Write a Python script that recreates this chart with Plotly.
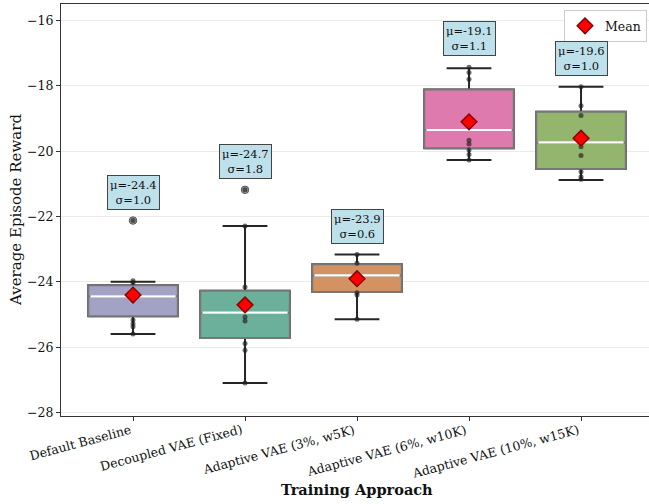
import plotly.graph_objects as go

# Training approaches compared
categories = [
    "Default Baseline",
    "Decoupled VAE (Fixed)",
    "Adaptive VAE (3%, w5K)",
    "Adaptive VAE (6%, w10K)",
    "Adaptive VAE (10%, w15K)",
]

# Box statistics of the average episode reward per approach
q1 = [-25.05, -25.71, -24.31, -19.91, -20.54]
medians = [-24.44, -24.94, -23.80, -19.35, -19.73]
q3 = [-24.10, -24.27, -23.46, -18.11, -18.79]
lower_whisker = [-25.59, -27.09, -25.14, -20.27, -20.88]
upper_whisker = [-23.99, -22.29, -23.16, -17.46, -18.03]

# Summary statistics shown in the labels
means = [-24.4, -24.7, -23.9, -19.1, -19.6]
stds = [1.0, 1.8, 0.6, 1.1, 1.0]

# Individual runs (visible points) and flagged outliers
runs = [
    [-22.12, -23.96, -24.02, -25.16, -25.28, -25.37, -25.59],
    [-21.18, -22.29, -24.15, -25.07, -25.19, -25.88, -26.09, -27.09],
    [-23.16, -23.43, -24.33, -24.40, -25.14],
    [-17.43, -17.59, -17.80, -19.66, -19.78, -19.96, -20.10, -20.27],
    [-18.03, -18.61, -18.91, -19.86, -20.13, -20.63, -20.78, -20.86],
]
outliers = [[-22.12], [-21.18], [], [], []]

y_ticks = [-28, -26, -24, -22, -20, -18, -16]

# Desaturated Dark2 colours blended at 70% over white
box_colors = ["#a3a1c4", "#6bb09b", "#d29261", "#de7aad", "#93b56d"]

FONT = "DejaVu Serif"
BOX_WIDTH = 0.8

fig = go.Figure()

for i, name in enumerate(categories):
    # whiskers and caps
    fig.add_trace(go.Box(
        x=[i], q1=[q1[i]], median=[medians[i]], q3=[q3[i]],
        lowerfence=[lower_whisker[i]], upperfence=[upper_whisker[i]],
        width=BOX_WIDTH, whiskerwidth=0.5, boxpoints=False,
        line=dict(color="#262626", width=2), fillcolor="rgba(0,0,0,0)",
        hoverinfo="skip", showlegend=False,
    ))
    # filled box body
    fig.add_trace(go.Box(
        x=[i], q1=[q1[i]], median=[medians[i]], q3=[q3[i]],
        lowerfence=[q1[i]], upperfence=[q3[i]],
        width=BOX_WIDTH, whiskerwidth=0, boxpoints=False,
        line=dict(color="#777777", width=2), fillcolor=box_colors[i],
        hoverinfo="skip", showlegend=False,
    ))

# white median lines
mx, my = [], []
for i, m in enumerate(medians):
    mx += [i - BOX_WIDTH / 2 + 0.02, i + BOX_WIDTH / 2 - 0.02, None]
    my += [m, m, None]
fig.add_trace(go.Scatter(x=mx, y=my, mode="lines",
                         line=dict(color="white", width=2.2),
                         hoverinfo="skip", showlegend=False))

# outlier markers
ox, oy = [], []
for i, vals in enumerate(outliers):
    ox += [i] * len(vals)
    oy += vals
fig.add_trace(go.Scatter(x=ox, y=oy, mode="markers",
                         marker=dict(size=7.5, color="#a0a0a0",
                                     line=dict(color="#555555", width=1)),
                         hoverinfo="skip", showlegend=False))

# individual runs
px, py = [], []
for i, vals in enumerate(runs):
    px += [i] * len(vals)
    py += vals
fig.add_trace(go.Scatter(x=px, y=py, mode="markers",
                         marker=dict(size=5, color="rgba(30,30,30,0.65)"),
                         hoverinfo="skip", showlegend=False))

# means
fig.add_trace(go.Scatter(x=list(range(len(categories))), y=means, mode="markers",
                         name="Mean",
                         marker=dict(symbol="diamond", size=12, color="red",
                                     line=dict(color="#8b0000", width=1.5))))

# mean / std labels above each group
for i in range(len(categories)):
    fig.add_annotation(
        x=i, y=max(runs[i]) + 0.33, xref="x", yref="y",
        text=f"μ={means[i]:.1f}<br>σ={stds[i]:.1f}",
        showarrow=False, yanchor="bottom",
        font=dict(family=FONT, size=11.5, color="#111111"),
        bgcolor="rgba(173,216,230,0.8)", bordercolor="#444444",
        borderwidth=1, borderpad=2,
    )

# rotated category labels, right end anchored under each tick
for i, name in enumerate(categories):
    fig.add_annotation(
        x=i, y=0, xref="x", yref="paper", text=name, textangle=-15,
        showarrow=False, xanchor="right", yanchor="top", yshift=-3, xshift=2,
        font=dict(family=FONT, size=12.5, color="#111111"),
    )

# axis titles
fig.add_annotation(
    x=0.5026, y=0, xref="paper", yref="paper", yshift=-73,
    text="<b>Training Approach</b>", showarrow=False,
    xanchor="center", yanchor="middle",
    font=dict(family=FONT, size=14.5, color="#111111"),
)
fig.add_annotation(
    x=0, y=0.5, xref="paper", yref="paper", xshift=-45,
    text="Average Episode Reward", textangle=-90, showarrow=False,
    xanchor="center", yanchor="middle",
    font=dict(family=FONT, size=15, color="#111111"),
)

fig.update_layout(
    width=649, height=504,
    margin=dict(l=61, r=0, t=4, b=88),
    paper_bgcolor="white", plot_bgcolor="white",
    font=dict(family=FONT, size=12.5, color="#111111"),
    boxmode="overlay",
    legend=dict(x=0.9966, y=0.985, xanchor="right", yanchor="top",
                bgcolor="white", bordercolor="#cccccc", borderwidth=1,
                font=dict(family=FONT, size=12.5)),
    xaxis=dict(
        range=[-0.643, 4.607],
        tickmode="array", tickvals=list(range(len(categories))),
        showticklabels=False,
        ticks="outside", ticklen=4, tickcolor="#333333",
        showline=True, linecolor="#333333", linewidth=1.2, mirror=True,
        showgrid=False, zeroline=False,
    ),
    yaxis=dict(
        range=[-28.1, -15.495],
        tickmode="array", tickvals=y_ticks,
        ticks="outside", ticklen=4, tickcolor="#333333",
        showline=True, linecolor="#333333", linewidth=1.2,
        showgrid=True, gridcolor="#ebebeb", gridwidth=1, zeroline=False,
        tickfont=dict(family=FONT, size=12.5),
    ),
)

fig.write_html("out.html")
